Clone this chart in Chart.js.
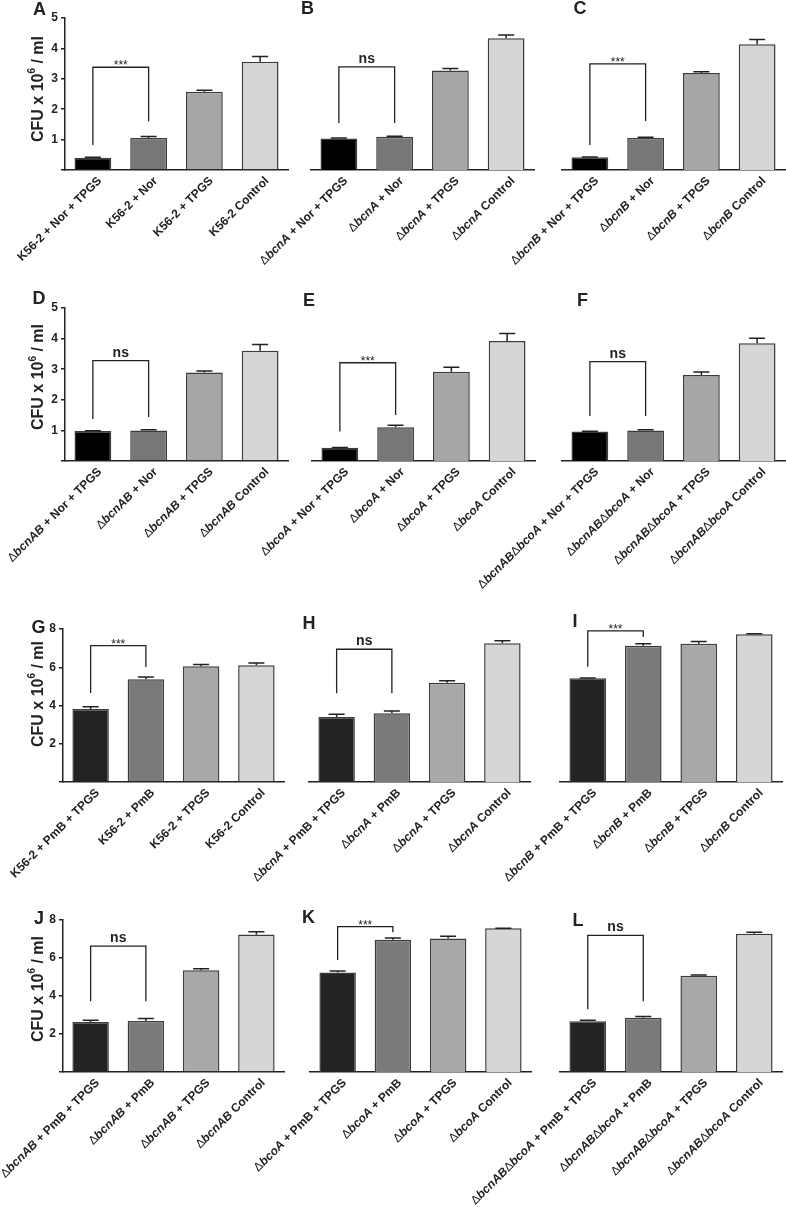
<!DOCTYPE html>
<html>
<head>
<meta charset="utf-8">
<script src="https://cdn.jsdelivr.net/npm/chart.js@4.4.1/dist/chart.umd.min.js"></script>
<style>
  html, body { margin: 0; padding: 0; background: #fff; overflow: hidden; }
  #fig { position: relative; width: 786px; height: 1207px; overflow: hidden; }
  #fig canvas { position: absolute; }
</style>
</head>
<body>
<div id="fig"></div>
<script>
// ---- data (CFU x 10^6 / ml) ----
// '_' toggles italics in labels
const yTicksNor = [1, 2, 3, 4, 5];
const yTicksPmb = [2, 4, 6, 8];

const labelsA = ['K56-2 + Nor + TPGS', 'K56-2 + Nor', 'K56-2 + TPGS', 'K56-2 Control'];
const valuesA = [0.40, 1.05, 2.57, 3.56];
const errorsA = [0.02, 0.05, 0.05, 0.17];
const sigA = [3.38, 0.82, 1.60, '***'];

const labelsB = ['Δ_bcnA_ + Nor + TPGS', 'Δ_bcnA_ + Nor', 'Δ_bcnA_ + TPGS', 'Δ_bcnA_ Control'];
const valuesB = [1.04, 1.09, 3.27, 4.33];
const errorsB = [0.01, 0.02, 0.07, 0.11];
const sigB = [3.39, 1.55, 1.55, 'ns'];

const labelsC = ['Δ_bcnB_ + Nor + TPGS', 'Δ_bcnB_ + Nor', 'Δ_bcnB_ + TPGS', 'Δ_bcnB_ Control'];
const valuesC = [0.42, 1.05, 3.19, 4.14];
const errorsC = [0.01, 0.03, 0.04, 0.15];
const sigC = [3.49, 0.82, 1.61, '***'];

const labelsD = ['Δ_bcnAB_ + Nor + TPGS', 'Δ_bcnAB_ + Nor', 'Δ_bcnAB_ + TPGS', 'Δ_bcnAB_ Control'];
const valuesD = [0.98, 1.00, 2.89, 3.60];
const errorsD = [0.01, 0.02, 0.05, 0.21];
const sigD = [3.28, 1.37, 1.44, 'ns'];

const labelsE = ['Δ_bcoA_ + Nor + TPGS', 'Δ_bcoA_ + Nor', 'Δ_bcoA_ + TPGS', 'Δ_bcoA_ Control'];
const valuesE = [0.43, 1.10, 2.92, 3.92];
const errorsE = [0.01, 0.07, 0.14, 0.25];
const sigE = [3.21, 0.96, 1.50, '***'];

const labelsF = ['Δ_bcnAB_Δ_bcoA_ + Nor + TPGS', 'Δ_bcnAB_Δ_bcoA_ + Nor', 'Δ_bcnAB_Δ_bcoA_ + TPGS', 'Δ_bcnAB_Δ_bcoA_ Control'];
const valuesF = [0.96, 1.00, 2.81, 3.85];
const errorsF = [0.01, 0.02, 0.10, 0.16];
const sigF = [3.25, 1.47, 1.47, 'ns'];

const labelsG = ['K56-2 + PmB + TPGS', 'K56-2 + PmB', 'K56-2 + TPGS', 'K56-2 Control'];
const valuesG = [3.82, 5.37, 6.05, 6.10];
const errorsG = [0.12, 0.12, 0.10, 0.12];
const sigG = [7.13, 4.65, 6.01, '***'];

const labelsH = ['Δ_bcnA_ + PmB + TPGS', 'Δ_bcnA_ + PmB', 'Δ_bcnA_ + TPGS', 'Δ_bcnA_ Control'];
const valuesH = [3.40, 3.59, 5.19, 7.25];
const errorsH = [0.14, 0.12, 0.11, 0.14];
const sigH = [6.94, 4.64, 4.64, 'ns'];

const labelsI = ['Δ_bcnB_ + PmB + TPGS', 'Δ_bcnB_ + PmB', 'Δ_bcnB_ + TPGS', 'Δ_bcnB_ Control'];
const valuesI = [5.42, 7.13, 7.23, 7.72];
const errorsI = [0.02, 0.10, 0.12, 0.03];
const sigI = [7.90, 6.03, 7.58, '***'];

const labelsJ = ['Δ_bcnAB_ + PmB + TPGS', 'Δ_bcnAB_ + PmB', 'Δ_bcnAB_ + TPGS', 'Δ_bcnAB_ Control'];
const valuesJ = [2.63, 2.68, 5.36, 7.24];
const errorsJ = [0.10, 0.13, 0.07, 0.14];
const sigJ = [6.63, 3.72, 3.72, 'ns'];

const labelsK = ['Δ_bcoA_ + PmB + TPGS', 'Δ_bcoA_ + PmB', 'Δ_bcoA_ + TPGS', 'Δ_bcoA_ Control'];
const valuesK = [5.24, 6.96, 7.03, 7.56];
const errorsK = [0.08, 0.09, 0.11, 0.01];
const sigK = [7.65, 5.89, 7.35, '***'];

const labelsL = ['Δ_bcnAB_Δ_bcoA_ + PmB + TPGS', 'Δ_bcnAB_Δ_bcoA_ + PmB', 'Δ_bcnAB_Δ_bcoA_ + TPGS', 'Δ_bcnAB_Δ_bcoA_ Control'];
const valuesL = [2.67, 2.86, 5.06, 7.28];
const errorsL = [0.05, 0.06, 0.04, 0.07];
const sigL = [7.19, 3.30, 3.72, 'ns'];

// ---- look ----
const FONT = '"Liberation Sans", Arial, sans-serif';
const INK = '#222';
const fillsNor = ['#000000', '#777777', '#a6a6a6', '#d6d6d6'];
const fillsPmb = ['#232323', '#7a7a7a', '#a8a8a8', '#d6d6d6'];
const PAD = { left: 150, top: 26, right: 6, bottom: 150 };
const AXIS_W = 40;

// plot box (l, r, t, b) in page pixels, letter centre, y-title centre
const panels = [
  { id: 'A', labels: labelsA, values: valuesA, errors: errorsA, sig: sigA, ticks: yTicksNor, max: 5, fills: fillsNor,
    l: 65, r: 288, t: 18, b: 170, lx: 39.5, ly: 10, axis: true, tx: 38.5, ty: 89 },
  { id: 'B', labels: labelsB, values: valuesB, errors: errorsB, sig: sigB, ticks: yTicksNor, max: 5, fills: fillsNor,
    l: 311, r: 534, t: 18, b: 170, lx: 307.5, ly: 9 },
  { id: 'C', labels: labelsC, values: valuesC, errors: errorsC, sig: sigC, ticks: yTicksNor, max: 5, fills: fillsNor,
    l: 562, r: 785, t: 18, b: 170, lx: 580, ly: 9 },
  { id: 'D', labels: labelsD, values: valuesD, errors: errorsD, sig: sigD, ticks: yTicksNor, max: 5, fills: fillsNor,
    l: 65, r: 288, t: 308, b: 461, lx: 39, ly: 299, axis: true, tx: 39, ty: 377 },
  { id: 'E', labels: labelsE, values: valuesE, errors: errorsE, sig: sigE, ticks: yTicksNor, max: 5, fills: fillsNor,
    l: 312, r: 535, t: 308, b: 461, lx: 309, ly: 301 },
  { id: 'F', labels: labelsF, values: valuesF, errors: errorsF, sig: sigF, ticks: yTicksNor, max: 5, fills: fillsNor,
    l: 562, r: 785, t: 308, b: 461, lx: 582.5, ly: 301 },
  { id: 'G', labels: labelsG, values: valuesG, errors: errorsG, sig: sigG, ticks: yTicksPmb, max: 8, fills: fillsPmb,
    l: 63, r: 284, t: 629, b: 782, lx: 38.5, ly: 628, axis: true, tx: 38.5, ty: 694 },
  { id: 'H', labels: labelsH, values: valuesH, errors: errorsH, sig: sigH, ticks: yTicksPmb, max: 8, fills: fillsPmb,
    l: 309, r: 530, t: 629, b: 782, lx: 309, ly: 624.5 },
  { id: 'I', labels: labelsI, values: valuesI, errors: errorsI, sig: sigI, ticks: yTicksPmb, max: 8, fills: fillsPmb,
    l: 560, r: 782, t: 629, b: 782, lx: 575, ly: 622.5 },
  { id: 'J', labels: labelsJ, values: valuesJ, errors: errorsJ, sig: sigJ, ticks: yTicksPmb, max: 8, fills: fillsPmb,
    l: 63, r: 284, t: 920, b: 1071.5, lx: 39, ly: 919.5, axis: true, tx: 38.5, ty: 989 },
  { id: 'K', labels: labelsK, values: valuesK, errors: errorsK, sig: sigK, ticks: yTicksPmb, max: 8, fills: fillsPmb,
    l: 310, r: 531, t: 920, b: 1071.5, lx: 308.5, ly: 918.5 },
  { id: 'L', labels: labelsL, values: valuesL, errors: errorsL, sig: sigL, ticks: yTicksPmb, max: 8, fills: fillsPmb,
    l: 560, r: 782, t: 920, b: 1071.5, lx: 578, ly: 921 },
];

// split a label into runs: '_' toggles italics, Δ is drawn light
function runsOf(text) {
  const out = [];
  text.split('_').forEach((part, i) => {
    part.split(/(Δ)/).forEach((s) => {
      if (s) out.push({ t: s, italic: i % 2 === 1, light: s === 'Δ' });
    });
  });
  return out;
}

function runFont(r, size) {
  return (r.italic ? 'italic ' : '') + (r.light ? '' : 'bold ') + size + 'px ' + FONT;
}

// draws runs ending at x=0 (right aligned)
function drawRuns(ctx, runs, size) {
  let total = 0;
  const w = runs.map((r) => {
    ctx.font = runFont(r, size);
    const m = ctx.measureText(r.t).width;
    total += m;
    return m;
  });
  let x = -total;
  runs.forEach((r, i) => {
    ctx.font = runFont(r, size);
    ctx.fillText(r.t, x, 0);
    x += w[i];
  });
}

function makePlugin(p, offX, offY) {
  return {
    id: 'panel' + p.id,
    afterDatasetsDraw(chart) {
      const { ctx } = chart;
      const x = chart.scales.x, y = chart.scales.y;
      const meta = chart.getDatasetMeta(0);
      ctx.save();
      ctx.strokeStyle = INK;
      ctx.lineWidth = 1.5;
      // error bars (upper only)
      meta.data.forEach((bar, i) => {
        const top = y.getPixelForValue(p.values[i] + p.errors[i]);
        ctx.beginPath();
        ctx.moveTo(bar.x, bar.y);
        ctx.lineTo(bar.x, top);
        ctx.moveTo(bar.x - 8, top);
        ctx.lineTo(bar.x + 8, top);
        ctx.stroke();
      });
      // significance bracket
      const [top, left, right, mark] = p.sig;
      const x1 = x.getPixelForValue(0), x2 = x.getPixelForValue(1);
      const yt = y.getPixelForValue(top);
      ctx.lineWidth = 1.3;
      ctx.beginPath();
      ctx.moveTo(x1, y.getPixelForValue(left));
      ctx.lineTo(x1, yt);
      ctx.lineTo(x2, yt);
      ctx.lineTo(x2, y.getPixelForValue(right));
      ctx.stroke();
      ctx.fillStyle = INK;
      ctx.textAlign = 'center';
      ctx.textBaseline = 'alphabetic';
      if (mark === 'ns') {
        ctx.font = 'bold 14px ' + FONT;
        ctx.fillText(mark, (x1 + x2) / 2, yt - 4);
      } else {
        ctx.font = '12px ' + FONT;
        ctx.fillText(mark, (x1 + x2) / 2, yt + 2);
      }
      ctx.restore();
    },
    afterDraw(chart) {
      const { ctx, chartArea } = chart;
      const x = chart.scales.x;
      ctx.save();
      ctx.fillStyle = INK;
      // rotated category labels
      ctx.textAlign = 'left';
      ctx.textBaseline = 'middle';
      p.labels.forEach((lab, i) => {
        ctx.save();
        ctx.translate(x.getPixelForValue(i) + 7, chartArea.bottom + 9);
        ctx.rotate(-Math.PI / 4);
        drawRuns(ctx, runsOf(lab), 12);
        ctx.restore();
      });
      // y title with superscript
      if (p.axis) {
        ctx.save();
        ctx.translate(p.tx - offX, p.ty - offY);
        ctx.rotate(-Math.PI / 2);
        const parts = [['CFU x 10', 16, 0], ['6', 10, -6], [' / ml', 16, 0]];
        let total = 0;
        const w = parts.map(([s, sz]) => {
          ctx.font = 'bold ' + sz + 'px ' + FONT;
          const m = ctx.measureText(s).width;
          total += m;
          return m;
        });
        let cx = -total / 2;
        parts.forEach(([s, sz, dy], i) => {
          ctx.font = 'bold ' + sz + 'px ' + FONT;
          ctx.fillText(s, cx, dy);
          cx += w[i];
        });
        ctx.restore();
      }
      // panel letter
      ctx.textAlign = 'center';
      ctx.textBaseline = 'middle';
      ctx.font = 'bold 18px ' + FONT;
      ctx.fillText(p.id, p.lx - offX, p.ly - offY);
      ctx.restore();
    },
  };
}

const fig = document.getElementById('fig');

panels.forEach((p) => {
  const offX = p.l - PAD.left;
  const offY = p.t - PAD.top;
  const w = Math.round(p.r - p.l + PAD.left + PAD.right);
  const h = Math.round(p.b - p.t + PAD.top + PAD.bottom);
  const canvas = document.createElement('canvas');
  canvas.width = w;
  canvas.height = h;
  canvas.style.left = offX + 'px';
  canvas.style.top = offY + 'px';
  canvas.style.width = w + 'px';
  canvas.style.height = h + 'px';
  fig.appendChild(canvas);

  const padding = Object.assign({}, PAD, p.axis ? { left: PAD.left - AXIS_W } : {});

  const yScale = p.axis
    ? {
        min: 0,
        max: p.max,
        afterFit: (s) => { s.width = AXIS_W; },
        afterBuildTicks: (s) => { s.ticks = [0].concat(p.ticks).map((v) => ({ value: v })); },
        ticks: {
          color: INK,
          padding: 3,
          font: { family: FONT, size: 12, weight: 'bold' },
          callback: (v) => (v === 0 ? '' : v),
        },
        grid: { display: true, drawOnChartArea: false, drawTicks: true, tickLength: 4, color: INK, lineWidth: 1.5 },
        border: { display: true, color: INK, width: 1.5 },
      }
    : { display: false, min: 0, max: p.max };

  new Chart(canvas, {
    type: 'bar',
    data: {
      labels: p.labels,
      datasets: [{
        data: p.values,
        backgroundColor: p.fills,
        borderColor: '#3c3c3c',
        borderWidth: 1.5,
        barPercentage: 0.66,
        categoryPercentage: 1,
      }],
    },
    options: {
      responsive: false,
      animation: false,
      devicePixelRatio: 1,
      layout: { padding },
      plugins: { legend: { display: false }, tooltip: { enabled: false } },
      scales: {
        x: {
          afterFit: (s) => { s.height = 0; },
          ticks: { display: false },
          grid: { display: false },
          border: { display: true, color: INK, width: 1.5 },
        },
        y: yScale,
      },
    },
    plugins: [makePlugin(p, offX, offY)],
  });
});
</script>
</body>
</html>
